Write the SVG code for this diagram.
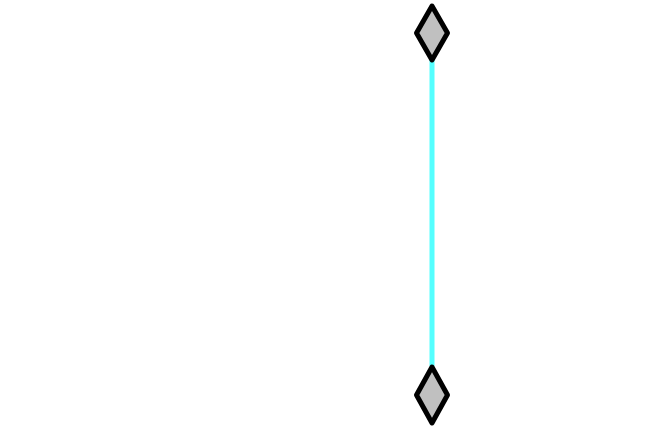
<svg xmlns="http://www.w3.org/2000/svg" width="670" height="429" viewBox="0 0 670 429">
<style>
.node{fill:#c0c0c0;stroke:#000;stroke-width:5;stroke-linejoin:round}
.edge{stroke:#55ffff;stroke-width:5;fill:none}
</style>
<rect width="670" height="429" fill="#fff"/>
<g id="connectors">
<line class="edge" x1="432" y1="60" x2="432" y2="366"/>
</g>
<g id="top">
<path class="node" d="M432 6 L447.5 33 L432 60 L416.5 33 Z"/>
</g>
<g id="bottom">
<path class="node" d="M432 367 L447.5 395 L432 423 L416.5 395 Z"/>
</g>
</svg>
